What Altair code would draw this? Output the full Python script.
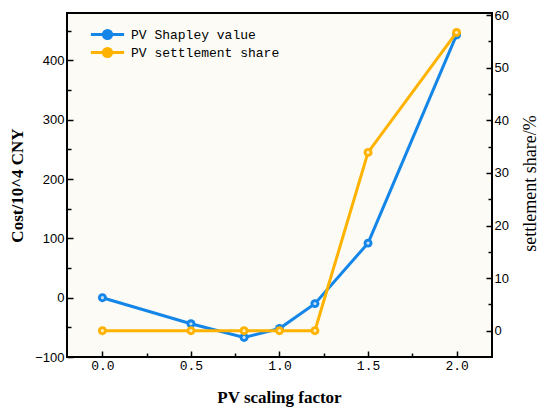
import altair as alt
import pandas as pd

# ---- data ----
x_vals = [0.0, 0.5, 0.8, 1.0, 1.2, 1.5, 2.0]
shapley_value = [0, -44, -67, -52, -10, 92, 443]
settlement_share = [0, 0, 0, 0, 0, 33.9, 56.7]
series_names = ["PV Shapley value", "PV settlement share"]
series_colors = ["#1386E8", "#FFB300"]
x_ticks = [0.0, 0.25, 0.5, 0.75, 1.0, 1.25, 1.5, 1.75, 2.0]
left_ticks = [-100, -50, 0, 50, 100, 150, 200, 250, 300, 350, 400, 450]
right_ticks = [0, 5, 10, 15, 20, 25, 30, 35, 40, 45, 50, 55, 60]

df1 = pd.DataFrame({"x": x_vals, "y": shapley_value, "series": series_names[0]})
df2 = pd.DataFrame({"x": x_vals, "y": settlement_share, "series": series_names[1]})

legend = alt.Legend(
    title=None,
    orient="none",
    legendX=34,
    legendY=15,
    symbolType="M-10.5,0L10.5,0M2.6,0A2.6,2.6,0,1,1,-2.6,0A2.6,2.6,0,1,1,2.6,0",
    symbolSize=10,
    symbolStrokeWidth=3,
    labelFont="Liberation Mono",
    labelFontSize=13,
    labelColor="black",
    labelOffset=17,
    rowPadding=-3,
)

color = alt.Color(
    "series:N",
    scale=alt.Scale(domain=series_names, range=series_colors),
    legend=legend,
)

x_axis = alt.Axis(
    values=x_ticks,
    format=".1f",
    labelExpr="round(datum.value*4) % 2 === 0 ? datum.label : ''",
    tickSize=alt.ExprRef(expr="round(datum.value*4) % 2 === 0 ? -6 : -4"),
    tickColor="black",
    tickWidth=1.5,
    domain=False,
    grid=False,
    labelFont="Liberation Mono",
    labelFontSize=13,
    labelColor="black",
    labelPadding=8,
    title="PV scaling factor",
    titleFont="Liberation Serif",
    titleFontWeight="bold",
    titleFontSize=17,
    titleColor="black",
    titleX=212,
    titleY=40,
    titleAlign="center",
    titleBaseline="middle",
)
x_enc = alt.X("x:Q", scale=alt.Scale(domain=[-0.2, 2.2], nice=False, zero=False), axis=x_axis)

left_axis = alt.Axis(
    orient="left",
    values=left_ticks,
    labelExpr="datum.value % 100 === 0 ? datum.label : ''",
    tickSize=alt.ExprRef(expr="datum.value % 100 === 0 ? -6 : -4"),
    tickColor="black",
    tickWidth=1.5,
    domain=False,
    grid=False,
    labelFont="Liberation Sans",
    labelFontSize=13,
    labelColor="black",
    labelPadding=9,
    title="Cost/10^4 CNY",
    titleFont="Liberation Serif",
    titleFontWeight="bold",
    titleFontSize=17,
    titleColor="black",
    titleAngle=270,
    titleX=-50,
    titleY=172,
    titleAlign="center",
    titleBaseline="middle",
)

right_axis = alt.Axis(
    orient="right",
    values=right_ticks,
    labelExpr="datum.value % 10 === 0 ? datum.label : ''",
    tickSize=alt.ExprRef(expr="datum.value % 10 === 0 ? -6 : -4"),
    tickColor="black",
    tickWidth=1.5,
    domain=False,
    grid=False,
    labelFont="Liberation Sans",
    labelFontSize=13,
    labelColor="black",
    labelPadding=8,
    title="settlement share/%",
    titleFont="Liberation Serif",
    titleFontWeight="normal",
    titleFontSize=18,
    titleColor="black",
    titleAngle=270,
    titleX=38,
    titleY=170,
    titleAlign="center",
    titleBaseline="middle",
)


def series_layer(df, y_enc):
    base = alt.Chart(df).encode(x=x_enc, y=y_enc, color=color)
    line = base.mark_line(strokeWidth=3)
    pts = base.mark_point(filled=True, size=80, opacity=1, shape="circle")
    shine = base.mark_point(filled=True, size=10, opacity=0.75, shape="circle").encode(
        color=alt.value("white")
    )
    return alt.layer(line, pts, shine)


left = series_layer(
    df1, alt.Y("y:Q", scale=alt.Scale(domain=[-100, 480], nice=False, zero=False), axis=left_axis)
)
right = series_layer(
    df2, alt.Y("y:Q", scale=alt.Scale(domain=[-5, 60.4], nice=False, zero=False), axis=right_axis)
)

chart = (
    alt.layer(left, right)
    .resolve_scale(y="independent")
    .properties(
        width=425,
        height=344,
        autosize=alt.AutoSizeParams(type="none"),
        padding={"left": 59, "top": 5, "right": 50, "bottom": 52},
        background="white",
    )
    .configure_view(stroke="black", strokeWidth=2, fill="#FCFBF6")
)

chart.save("out.html", embed_options={"renderer": "svg", "actions": False})
